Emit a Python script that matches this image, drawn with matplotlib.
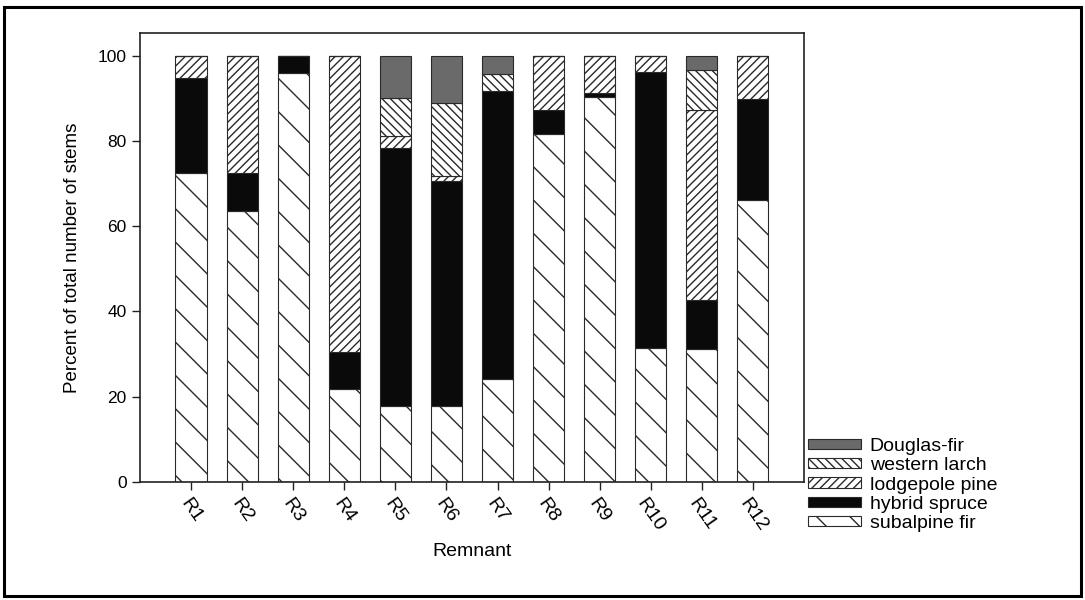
import numpy as np
import matplotlib
matplotlib.use("Agg")
import matplotlib.pyplot as plt
from matplotlib.patches import Rectangle

plt.rcParams['font.family'] = ['Liberation Sans', 'DejaVu Sans']
plt.rcParams['hatch.linewidth'] = 1.0

# percent of stems per remnant
remnants = ['R1', 'R2', 'R3', 'R4', 'R5', 'R6', 'R7', 'R8', 'R9', 'R10', 'R11', 'R12']
subalpine_fir = [72.6, 63.5, 96.1, 21.9, 17.7, 17.7, 24.1, 81.6, 90.4, 31.4, 31.1, 66.2]
hybrid_spruce = [22.2, 9.1, 3.9, 8.5, 60.7, 53.0, 67.6, 5.8, 0.9, 64.9, 11.6, 23.8]
lodgepole_pine = [5.2, 27.4, 0.0, 69.6, 2.7, 1.2, 0.0, 12.6, 8.7, 3.7, 44.7, 10.0]
western_larch = [0.0, 0.0, 0.0, 0.0, 9.0, 17.0, 4.0, 0.0, 0.0, 0.0, 9.4, 0.0]
douglas_fir = [0.0, 0.0, 0.0, 0.0, 9.9, 11.1, 4.3, 0.0, 0.0, 0.0, 3.2, 0.0]

series = [
    ('subalpine fir', subalpine_fir, 'white', '\\'),
    ('hybrid spruce', hybrid_spruce, '#0a0a0a', None),
    ('lodgepole pine', lodgepole_pine, 'white', '////'),
    ('western larch', western_larch, 'white', '\\\\\\\\'),
    ('Douglas-fir', douglas_fir, '#6a6a6a', None),
]

fig = plt.figure(figsize=(10.85, 6.0), dpi=100)
ax = fig.add_axes([0.129, 0.197, 0.612, 0.748])

x = np.arange(1, len(remnants) + 1)
bottom = np.zeros(len(remnants))
handles = []
for name, vals, color, hatch in series:
    vals = np.array(vals)
    bars = ax.bar(x, vals, width=0.61, bottom=bottom, color=color,
                  edgecolor='#2a2a2a', linewidth=0.8, hatch=hatch, label=name)
    handles.append(bars)
    bottom += vals

ax.set_xlim(0, 13)
ax.set_ylim(0, 105.4)
ax.set_yticks([0, 20, 40, 60, 80, 100])
ax.set_xticks(x)
ax.set_xticklabels(remnants, rotation=-55, ha='center', va='top', fontsize=14)
ax.tick_params(axis='both', direction='out', length=6, width=1, color='#222222')
ax.tick_params(axis='y', labelsize=12.5)
ax.tick_params(axis='x', pad=4)
for s in ax.spines.values():
    s.set_linewidth(1.2)
    s.set_color('#222222')

ax.set_xlabel('Remnant', fontsize=14, labelpad=6)
ax.set_ylabel('Percent of total number of stems', fontsize=13.5, labelpad=12)

leg = fig.legend(handles[::-1], [h.get_label() for h in handles[::-1]],
                 loc='lower left', bbox_to_anchor=(0.745, 0.113),
                 bbox_transform=fig.transFigure, frameon=False, fontsize=14,
                 handlelength=2.7, handleheight=0.45, handletextpad=0.45,
                 labelspacing=0.12, borderpad=0, borderaxespad=0)

# outer border around the figure
fig.patches.append(Rectangle((0.004, 0.006), 0.992, 0.982, transform=fig.transFigure,
                             fill=False, edgecolor='black', linewidth=2.2))

fig.savefig('out.png', dpi=100)
